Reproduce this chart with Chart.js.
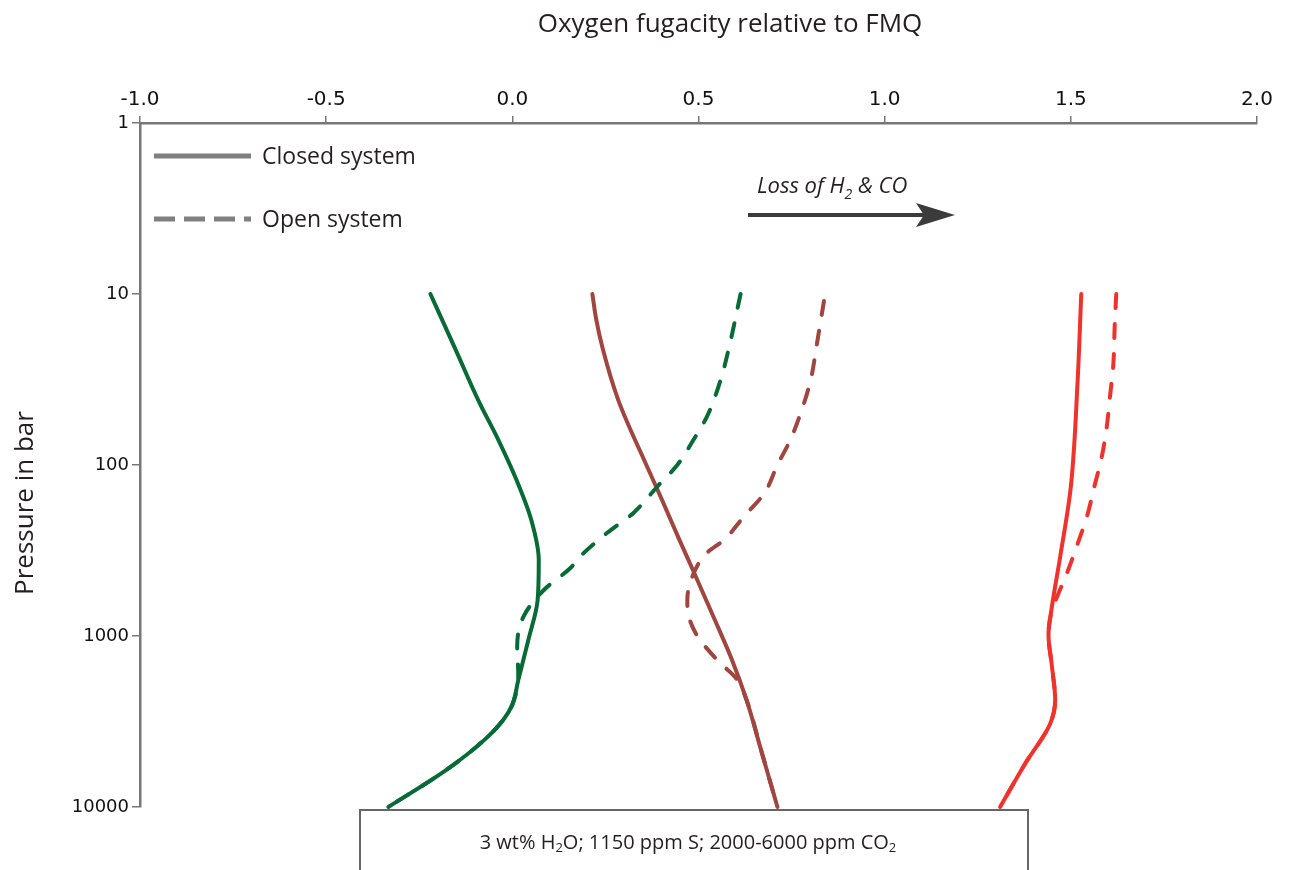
<!DOCTYPE html>
<html>
<head>
<meta charset="utf-8">
<script src="https://cdn.jsdelivr.net/npm/chart.js@4"></script>
<style>
  body { margin: 0; background: #fff; }
  #wrap { width: 1291px; height: 870px; }
</style>
</head>
<body>
<div id="wrap"><canvas id="fmqCht" width="1291" height="870"></canvas></div>
<script>
// axis ticks
const xTicks = [-1.0, -0.5, 0.0, 0.5, 1.0, 1.5, 2.0];
const yTicks = [1, 10, 100, 1000, 10000];

// green run - closed system
const greenClosedP = [10, 21, 42, 71, 122, 210, 360, 615, 1055, 1807, 2520, 3090, 4050, 6130, 10000];
const greenClosedX = [-0.22, -0.153, -0.091, -0.038, 0.011, 0.051, 0.071, 0.068, 0.043, 0.016, 0.0, -0.024, -0.075, -0.18, -0.333];
// green run - open system
const greenOpenP = [10, 21, 32, 52, 71, 100, 134, 190, 250, 330, 400, 540, 770, 1150, 1700, 2520, 3090, 4050, 6130, 10000];
const greenOpenX = [0.613, 0.581, 0.559, 0.523, 0.487, 0.443, 0.389, 0.326, 0.254, 0.19, 0.156, 0.084, 0.030, 0.013, 0.016, 0.0, -0.024, -0.075, -0.18, -0.333];

// brown run
const brownClosedP = [10, 14, 21, 42, 100, 160, 275, 411, 806, 1381, 2366, 4645, 10000];
const brownClosedX = [0.215, 0.225, 0.243, 0.285, 0.36, 0.402, 0.449, 0.485, 0.544, 0.59, 0.629, 0.668, 0.712];
const brownOpenP = [11, 19, 32, 50, 71, 100, 147, 200, 275, 330, 430, 615, 770, 1000, 1380, 1800, 2366, 4645, 10000];
const brownOpenX = [0.837, 0.819, 0.801, 0.774, 0.747, 0.712, 0.676, 0.622, 0.568, 0.52, 0.487, 0.47, 0.474, 0.497, 0.55, 0.604, 0.629, 0.668, 0.712];

// red run
const redClosedP = [10, 33, 134, 338, 678, 982, 1491, 2370, 3280, 5460, 10000];
const redClosedX = [1.528, 1.518, 1.50, 1.472, 1.449, 1.44, 1.449, 1.458, 1.444, 1.38, 1.31];
const redOpenP = [10, 15, 26, 40, 61, 92, 134, 194, 294, 427, 590, 711, 982, 1491, 2370, 3280, 5460, 10000];
const redOpenX = [1.622, 1.618, 1.614, 1.605, 1.596, 1.582, 1.563, 1.545, 1.517, 1.49, 1.463, 1.449, 1.44, 1.449, 1.458, 1.444, 1.38, 1.31];

function pts(xs, ps) {
    return xs.map(function(x, i) { return { x: x, y: ps[i] }; });
}

function curve(xs, ps, color, dashed) {
    return {
        data: pts(xs, ps),
        borderColor: color,
        borderWidth: 4,
        borderDash: dashed ? [14, 16] : [],
        borderCapStyle: 'round',
        borderJoinStyle: 'round',
        pointRadius: 0,
        cubicInterpolationMode: 'monotone',
        fill: false,
        clip: false
    };
}

const GREEN = 'rgb(8, 106, 54)';
const BROWN = 'rgb(160, 70, 64)';
const RED = 'rgb(240, 50, 45)';
const TXT = '#231f20';

const decorations = {
    id: 'decorations',
    afterDraw(chart) {
        const c = chart.ctx;
        c.save();
        c.fillStyle = TXT;
        c.textBaseline = 'middle';

        // axis titles
        c.font = '26px "Open Sans"';
        c.textAlign = 'center';
        c.fillText('Oxygen fugacity relative to FMQ', 730, 25);
        c.save();
        c.translate(26, 503);
        c.rotate(-Math.PI / 2);
        c.font = '26px "Open Sans"';
        c.fillText('Pressure in bar', 0, 0);
        c.restore();

        // legend
        c.strokeStyle = '#808080';
        c.lineWidth = 5;
        c.beginPath();
        c.moveTo(154, 156); c.lineTo(251, 156);
        c.stroke();
        c.setLineDash([21, 9]);
        c.beginPath();
        c.moveTo(154, 219); c.lineTo(251, 219);
        c.stroke();
        c.setLineDash([]);
        c.textAlign = 'left';
        c.font = '23px "Open Sans"';
        c.fillText('Closed system', 262, 157);
        c.fillText('Open system', 262, 220);

        // arrow
        c.strokeStyle = '#3b3b3b';
        c.fillStyle = '#3b3b3b';
        c.lineWidth = 4;
        c.beginPath();
        c.moveTo(748, 215); c.lineTo(930, 215);
        c.stroke();
        c.beginPath();
        c.moveTo(955, 215); c.lineTo(916, 203); c.lineTo(924, 215); c.lineTo(916, 227);
        c.closePath();
        c.fill();
        c.fillStyle = TXT;
        c.font = 'italic 22px "Open Sans"';
        let x = 757;
        c.fillText('Loss of H', x, 187);
        x += c.measureText('Loss of H').width;
        c.font = 'italic 14px "Open Sans"';
        c.fillText('2', x, 195);
        x += c.measureText('2').width;
        c.font = 'italic 22px "Open Sans"';
        c.fillText(' & CO', x, 187);

        // composition box
        c.fillStyle = '#fff';
        c.fillRect(360, 810, 668, 70);
        c.strokeStyle = '#666';
        c.lineWidth = 2;
        c.strokeRect(360, 810, 668, 70);
        c.fillStyle = TXT;
        const parts = [['3 wt% H', 20, 0], ['2', 13, 5], ['O; 1150 ppm S; 2000-6000 ppm CO', 20, 0], ['2', 13, 5]];
        let w = 0;
        parts.forEach(function(p) { c.font = p[1] + 'px "Open Sans"'; w += c.measureText(p[0]).width; });
        x = 688 - w / 2;
        parts.forEach(function(p) {
            c.font = p[1] + 'px "Open Sans"';
            c.fillText(p[0], x, 843 + p[2]);
            x += c.measureText(p[0]).width;
        });
        c.restore();
    }
};

const ctx = document.getElementById('fmqCht');
const fmqChart = new Chart(ctx, {
    type: 'line',
    data: {
        datasets: [
            curve(greenClosedX, greenClosedP, GREEN, false),
            curve(greenOpenX, greenOpenP, GREEN, true),
            curve(brownClosedX, brownClosedP, BROWN, false),
            curve(brownOpenX, brownOpenP, BROWN, true),
            curve(redClosedX, redClosedP, RED, false),
            curve(redOpenX, redOpenP, RED, true)
        ]
    },
    options: {
        indexAxis: 'y',
        responsive: false,
        animation: false,
        layout: { padding: { left: 0, top: 0, right: 34, bottom: 63 } },
        plugins: { legend: { display: false }, tooltip: { enabled: false } },
        scales: {
            x: {
                type: 'linear',
                position: 'top',
                min: -1,
                max: 2,
                afterBuildTicks: function(s) { s.ticks = xTicks.map(function(v) { return { value: v }; }); },
                afterFit: function(s) { s.height = 123; },
                ticks: {
                    callback: function(v) { return v.toFixed(1); },
                    font: { family: 'DejaVu Sans', size: 20 },
                    color: '#111',
                    padding: 4,
                    maxRotation: 0
                },
                grid: { drawOnChartArea: false, tickLength: 7, color: '#777', lineWidth: 1.5 },
                border: { color: '#777', width: 2.5 }
            },
            y: {
                type: 'logarithmic',
                position: 'left',
                reverse: true,
                min: 1,
                max: 10000,
                afterBuildTicks: function(s) { s.ticks = yTicks.map(function(v) { return { value: v }; }); },
                afterFit: function(s) { s.width = 140; },
                ticks: {
                    callback: function(v) { return String(v); },
                    font: { family: 'DejaVu Sans', size: 18 },
                    color: '#111',
                    padding: 3
                },
                grid: { drawOnChartArea: false, tickLength: 8, color: '#777', lineWidth: 1.5 },
                border: { color: '#777', width: 2.5 }
            }
        }
    },
    plugins: [decorations]
});
</script>
</body>
</html>
